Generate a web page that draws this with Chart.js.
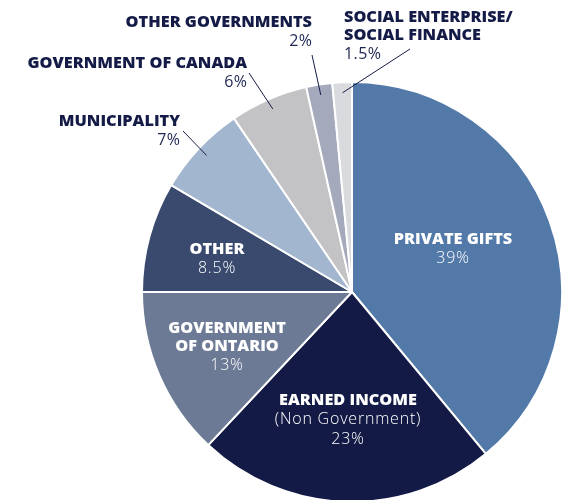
<!DOCTYPE html>
<html lang="en">
<head>
    <meta charset="UTF-8">
    <title>Revenue Sources</title>
    <script src="https://cdn.jsdelivr.net/npm/chart.js@4.4.1/dist/chart.umd.min.js"></script>
    <style>
        html, body {
            margin: 0;
            padding: 0;
            background: #FFFFFF;
            overflow: hidden;
        }
        #pieChart { display: block; }
    </style>
</head>
<body>
    <canvas id="pieChart" width="566" height="500"></canvas>

    <script>
        // data, clockwise from 12 o'clock
        const categories = ['PRIVATE GIFTS', 'EARNED INCOME', 'GOVERNMENT OF ONTARIO', 'OTHER',
            'MUNICIPALITY', 'GOVERNMENT OF CANADA', 'OTHER GOVERNMENTS', 'SOCIAL ENTERPRISE/SOCIAL FINANCE'];
        const shares = [39, 23, 13, 8.5, 7, 6, 2, 1.5];
        const shareLabels = ['39%', '23%', '13%', '8.5%', '7%', '6%', '2%', '1.5%'];
        const headingLines = [
            ['PRIVATE GIFTS'],
            ['EARNED INCOME'],
            ['GOVERNMENT', 'OF ONTARIO'],
            ['OTHER'],
            ['MUNICIPALITY'],
            ['GOVERNMENT OF CANADA'],
            ['OTHER GOVERNMENTS'],
            ['SOCIAL ENTERPRISE/', 'SOCIAL FINANCE']
        ];
        const subLines = [[], ['(Non Government)'], [], [], [], [], [], []];

        const sliceColors = ['#5279A8', '#131A45', '#6C7A96', '#394A6E', '#A2B6CF', '#C3C3C5', '#A4A9BC', '#D9DADD'];

        const navy = '#141B47';
        const headFont = '800 16.3px "Open Sans", sans-serif';
        const pctFontInside = '300 16px "Open Sans", sans-serif';
        const pctFontOutside = '400 16px "Open Sans", sans-serif';
        const lineGap = 19;

        // label placement: inside labels are offsets from the pie centre,
        // outside labels are absolute text anchors with a leader line into the slice
        const labelLayout = [
            { inside: true, dx: 101, dy: -53, align: 'center' },
            { inside: true, dx: -4, dy: 108, align: 'center' },
            { inside: true, dx: -125, dy: 36, align: 'center' },
            { inside: true, dx: -135, dy: -43, align: 'center' },
            { inside: false, x: 180, y: 121, align: 'right', lx: 183, ly: 131 },
            { inside: false, x: 247, y: 63, align: 'right', lx: 249, ly: 73 },
            { inside: false, x: 312, y: 22, align: 'right', lx: 312, ly: 55 },
            { inside: false, x: 344, y: 17, align: 'left', lx: 410, ly: 49 }
        ];

        const labelPlugin = {
            id: 'sliceLabels',
            afterDatasetsDraw(chart) {
                const ctx = chart.ctx;
                const arcs = chart.getDatasetMeta(0).data;
                ctx.save();
                ctx.textBaseline = 'middle';
                arcs.forEach((arc, i) => {
                    const p = arc.getProps(['x', 'y', 'startAngle', 'endAngle', 'outerRadius'], true);
                    const lay = labelLayout[i];
                    let tx, ty;
                    if (lay.inside) {
                        tx = p.x + lay.dx;
                        ty = p.y + lay.dy;
                    } else {
                        tx = lay.x;
                        ty = lay.y;
                        const mid = (p.startAngle + p.endAngle) / 2;
                        const r = p.outerRadius * 0.95;
                        ctx.strokeStyle = navy;
                        ctx.lineWidth = 1;
                        ctx.beginPath();
                        ctx.moveTo(lay.lx, lay.ly);
                        ctx.lineTo(p.x + Math.cos(mid) * r, p.y + Math.sin(mid) * r);
                        ctx.stroke();
                    }
                    ctx.textAlign = lay.align;
                    const textColor = lay.inside ? '#FFFFFF' : navy;
                    const pctColor = lay.inside ? '#FFFFFF' : '#1E2652';
                    let y = ty;
                    ctx.fillStyle = textColor;
                    ctx.font = headFont;
                    ctx.letterSpacing = '0px';
                    headingLines[i].forEach(line => {
                        ctx.fillText(line, tx, y);
                        y += lineGap - 1;
                    });
                    ctx.font = lay.inside ? pctFontInside : pctFontOutside;
                    ctx.letterSpacing = lay.inside ? '0.8px' : '0.4px';
                    ctx.fillStyle = pctColor;
                    // letter spacing pads the right edge, so nudge right-aligned text
                    const nx = lay.align === 'right' ? tx + 0.4 : tx;
                    subLines[i].forEach(line => {
                        ctx.fillText(line, nx, y + 1);
                        y += lineGap + 1;
                    });
                    ctx.fillText(shareLabels[i], nx, y + 1);
                });
                ctx.restore();
            }
        };

        const chart = new Chart(document.getElementById('pieChart').getContext('2d'), {
            type: 'pie',
            data: {
                labels: categories,
                datasets: [{
                    data: shares,
                    backgroundColor: sliceColors,
                    borderColor: '#FFFFFF',
                    borderWidth: 2
                }]
            },
            options: {
                responsive: false,
                animation: false,
                radius: 210,
                layout: { padding: { left: 142, right: 4, top: 84, bottom: 0 } },
                plugins: {
                    legend: { display: false },
                    tooltip: { enabled: false }
                }
            },
            plugins: [labelPlugin]
        });
    </script>
</body>
</html>
